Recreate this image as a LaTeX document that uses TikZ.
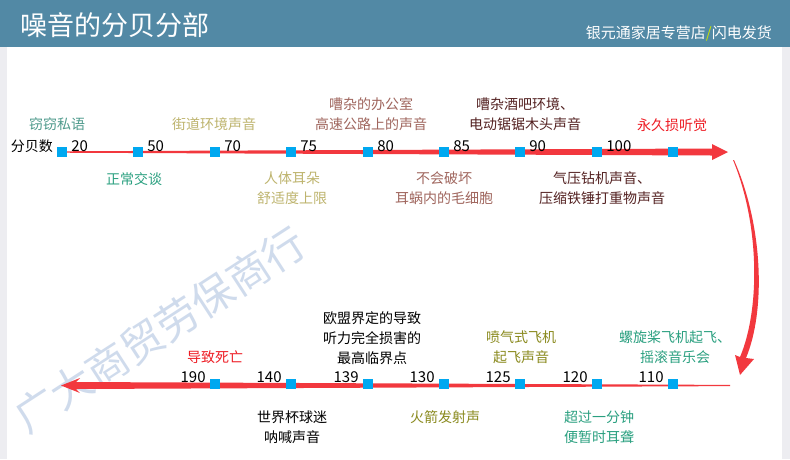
\documentclass[tikz,border=0pt]{standalone}
\usepackage{fontspec}
\setmainfont{Noto Sans CJK SC}
\usetikzlibrary{calc}

\definecolor{cabecera}{RGB}{82,137,165}
\definecolor{franja}{RGB}{237,237,241}
\definecolor{rojo}{RGB}{242,56,62}
\definecolor{azul}{RGB}{0,168,240}
\definecolor{lima}{RGB}{200,226,0}
\definecolor{marca}{RGB}{196,210,232}
\definecolor{verdegris}{RGB}{78,154,140}
\definecolor{verde}{RGB}{42,160,128}
\definecolor{caqui}{RGB}{190,180,110}
\definecolor{oliva}{RGB}{138,138,30}
\definecolor{marron}{RGB}{160,102,94}
\definecolor{granate}{RGB}{84,34,34}
\definecolor{rojovivo}{RGB}{238,28,36}

\begin{document}
\begin{tikzpicture}[x=1pt, y=-1pt,
    cuadro/.style={fill=azul, minimum size=10pt, inner sep=0pt},
    numero/.style={font=\fontsize{15}{18}\selectfont, inner sep=0pt},
    texto/.style={font=\fontsize{14}{20}\selectfont, align=center, inner sep=0pt}]
    \useasboundingbox (0,0) rectangle (790,459);

    % Fondo y cabecera
    \fill[white] (0,0) rectangle (790,459);
    \fill[franja] (0,47) rectangle (7,459);
    \fill[franja] (782,47) rectangle (790,459);
    \fill[cabecera] (0,0) rectangle (790,47);
    \node[anchor=west, white, inner sep=0pt, font=\fontsize{27}{30}\selectfont] (titulo) at (20,25) {噪音的分贝分部};
    \node[anchor=east, white, inner sep=0pt, font=\fontsize{15}{18}\selectfont] (tienda) at (772,33) {银元通家居专营店{\color{lima}/}闪电发货};

    % Marca de agua
    \node[rotate=33, text=marca, text opacity=0.8, inner sep=0pt, font=\fontsize{42}{46}\selectfont] (agua) at (160,330) {广大商贸劳保商行};

    % Flechas
    \coordinate (ini-sup) at (60,152);
    \coordinate (fin-sup) at (728,152);
    \fill[rojo] ([yshift=0.7pt]ini-sup) -- ([xshift=-16pt,yshift=3.5pt]fin-sup) -- ([xshift=-16pt,yshift=8pt]fin-sup) -- (fin-sup)
        -- ([xshift=-16pt,yshift=-8pt]fin-sup) -- ([xshift=-16pt,yshift=-3.5pt]fin-sup) -- ([yshift=-0.7pt]ini-sup) -- cycle;

    \coordinate (ini-curva) at (733,160);
    \coordinate (fin-curva) at (740,375);
    \fill[rojo] (ini-curva) .. controls (760,225) and (760,310) .. ([yshift=18pt]fin-curva)
        -- ([xshift=-5pt,yshift=20pt]fin-curva) -- (fin-curva) -- ([xshift=14pt,yshift=16pt]fin-curva)
        -- ([xshift=6pt,yshift=17pt]fin-curva) .. controls (766,310) and (763,225) .. ([xshift=1pt]ini-curva) -- cycle;

    \coordinate (ini-inf) at (730,385.5);
    \coordinate (fin-inf) at (61,385.5);
    \fill[rojo] ([yshift=0.6pt]ini-inf) -- ([xshift=15pt,yshift=3.5pt]fin-inf) -- ([xshift=19pt,yshift=7.5pt]fin-inf) -- (fin-inf)
        -- ([xshift=19pt,yshift=-7.5pt]fin-inf) -- ([xshift=15pt,yshift=-3.5pt]fin-inf) -- ([yshift=-0.6pt]ini-inf) -- cycle;

    % Escala superior
    \node[texto, anchor=east] (etiq) at (53,146) {分贝数};
    \foreach \x/\v [count=\i] in {62/20,138/50,215/70,291/75,368/80,444/85,520/90,597/100} {
        \node[cuadro] (sup\i) at (\x,151.5) {};
        \node[numero, anchor=west] (nsup\i) at ([xshift=4pt,yshift=5.5pt]sup\i.east) {\v};
    }
    \node[cuadro] (sup9) at (673,151.5) {};

    \node[texto, text=verdegris] (t1) at (57,124) {窃窃私语};
    \node[texto, text=caqui] (t2) at (214,124) {街道环境声音};
    \node[texto, text=marron] (t3) at (371,114) {嘈杂的办公室\\高速公路上的声音};
    \node[texto, text=granate] (t4) at (525,114) {嘈杂酒吧环境、\\电动锯锯木头声音};
    \node[texto, text=rojovivo] (t5) at (672,125) {永久损听觉};

    \node[texto, text=verde] (b1) at (134,179) {正常交谈};
    \node[texto, text=caqui] (b2) at (292,188.5) {人体耳朵\\舒适度上限};
    \node[texto, text=marron] (b3) at (444,188.5) {不会破坏\\耳蜗内的毛细胞};
    \node[texto, text=granate] (b4) at (602,188.5) {气压钻机声音、\\压缩铁锤打重物声音};

    % Escala inferior
    \foreach \x/\v [count=\i] in {215/190,291/140,368/139,444/130,520/125,597/120,673/110} {
        \node[cuadro] (inf\i) at (\x,384) {};
        \node[numero, anchor=east] (ninf\i) at ([xshift=-4pt,yshift=7pt]inf\i.west) {\v};
    }

    \node[texto, text=rojovivo] (u1) at (215,357) {导致死亡};
    \node[texto] (u2) at (372,338) {欧盟界定的导致\\听力完全损害的\\最高临界点};
    \node[texto, text=oliva] (u3) at (521,347) {喷气式飞机\\起飞声音};
    \node[texto, text=verde] (u4) at (675,347) {螺旋桨飞机起飞、\\摇滚音乐会};

    \node[texto] (d1) at (292,427.5) {世界杯球迷\\呐喊声音};
    \node[texto, text=oliva] (d2) at (445,417) {火箭发射声};
    \node[texto, text=verde] (d3) at (599,427) {超过一分钟\\便暂时耳聋};
\end{tikzpicture}
\end{document}
